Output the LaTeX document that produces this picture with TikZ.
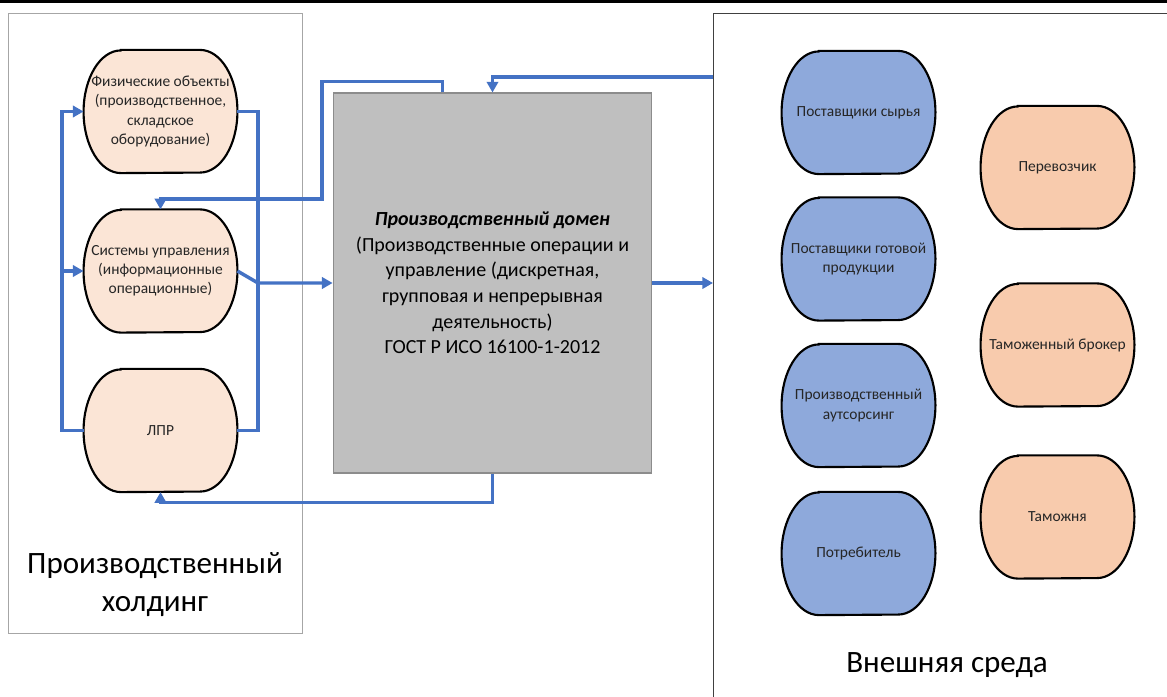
\documentclass[tikz,border=0pt]{standalone}
\usepackage{fontspec}
\setmainfont{Carlito}
\usetikzlibrary{arrows.meta, calc, backgrounds}
\definecolor{linkblue}{HTML}{4472C4}
\definecolor{peachlt}{HTML}{FBE5D6}
\definecolor{peach}{HTML}{F8CBAD}
\definecolor{bluefill}{HTML}{8EA9DB}
\definecolor{domgray}{HTML}{BFBFBF}
\definecolor{txt}{HTML}{262626}
\tikzstyle{blob} = [minimum width=115pt, minimum height=92pt, inner sep=1pt, align=center, text=txt, font=\fontsize{11.6}{14.3}\selectfont]
\tikzstyle{dombox} = [rectangle, minimum width=239pt, minimum height=285pt, fill=domgray, draw=gray!90, line width=0.8pt, align=center, font=\fontsize{15}{19.2}\selectfont]
\tikzstyle{frame} = [draw=gray!70, line width=0.6pt]
\tikzstyle{link} = [draw=linkblue, line width=2.6pt]
\tikzstyle{arrow} = [link, -{Triangle[length=8pt,width=8.5pt]}]
\tikzstyle{biglabel} = [align=center, font=\fontsize{23.3}{28.5}\selectfont]
% outline of a blob node: flat top and bottom, half-ellipse sides
\newcommand{\blobline}[2]{%
  \draw[line width=1.6pt, fill=#2]
    ([xshift=28pt]#1.north west) -- ([xshift=-28pt]#1.north east)
    arc[start angle=90, end angle=-90, x radius=28pt, y radius=46pt]
    -- ([xshift=28pt]#1.south west)
    arc[start angle=270, end angle=90, x radius=28pt, y radius=46pt] -- cycle;}

\begin{document}
\begin{tikzpicture}[x=0.75pt, y=-0.75pt]
	\useasboundingbox (0,0) rectangle (1167,696);
	\fill (0,0) rectangle (1167,3);

	% containers
	\node (hold) [frame, rectangle, minimum width=220.5pt, minimum height=465pt] at (155,323) {};
	\draw [frame, draw=black!75] (713,700) |- (1170,13);
	\coordinate (envin) at (713,77);
	\coordinate (lrail) at (62,0);
	\coordinate (rrail) at (258,0);

	% production holding
	\node (fiz) [blob] at (160.5,111.5) {Физические объекты\\(производственное,\\складское\\оборудование)};
	\node (sys) [blob] at (160.5,271) {Системы управления\\(информационные\\операционные)};
	\node (lpr) [blob] at (160.5,430.5) {ЛПР};
	\node (holdlbl) [biglabel] at (155,585) {Производственный\\холдинг};

	% production domain
	\node (dom) [dombox] at (492.5,283) {\textbf{\textit{Производственный домен}}\\(Производственные операции и\\управление (дискретная,\\групповая и непрерывная\\деятельность)\\ГОСТ Р ИСО 16100-1-2012};

	% external environment
	\node (raw) [blob] at (858.5,112.5) {Поставщики сырья};
	\node (fin) [blob] at (858.5,259) {Поставщики готовой\\продукции};
	\node (outs) [blob] at (858.5,405.5) {Производственный\\аутсорсинг};
	\node (cons) [blob] at (858.5,553.5) {Потребитель};
	\node (carr) [blob] at (1057.5,167.5) {Перевозчик};
	\node (brok) [blob] at (1057.5,345) {Таможенный брокер};
	\node (cust) [blob] at (1057.5,517) {Таможня};
	\node (envlbl) [biglabel] at (947,665) {Внешняя среда};

	\begin{scope}[on background layer]
		\foreach \n/\c in {fiz/peachlt, sys/peachlt, lpr/peachlt, raw/bluefill, fin/bluefill, outs/bluefill, cons/bluefill, carr/peach, brok/peach, cust/peach}
			{\blobline{\n}{\c}}
	\end{scope}

	\draw [arrow] (lpr.west) -| (lrail |- fiz.west) -- (fiz.west);
	\draw [arrow] (lrail |- sys.west) -- (sys.west);
	\draw [link] (fiz.east) -| (rrail |- lpr.east) -- (lpr.east);
	\draw [arrow] (sys.east) -- (rrail |- dom.west) -- (dom.west);
	\draw [arrow] ($(dom.north)+(-50,0)$) -- ++(0,-11) -| (322,199) -| (sys.north);
	\draw [arrow] (envin) -| (dom.north);
	\draw [arrow] (dom.south) -- ++(0,29) -| (lpr.south);
	\draw [arrow] (dom.east) -- (dom.east -| envin);

\end{tikzpicture}
\end{document}
